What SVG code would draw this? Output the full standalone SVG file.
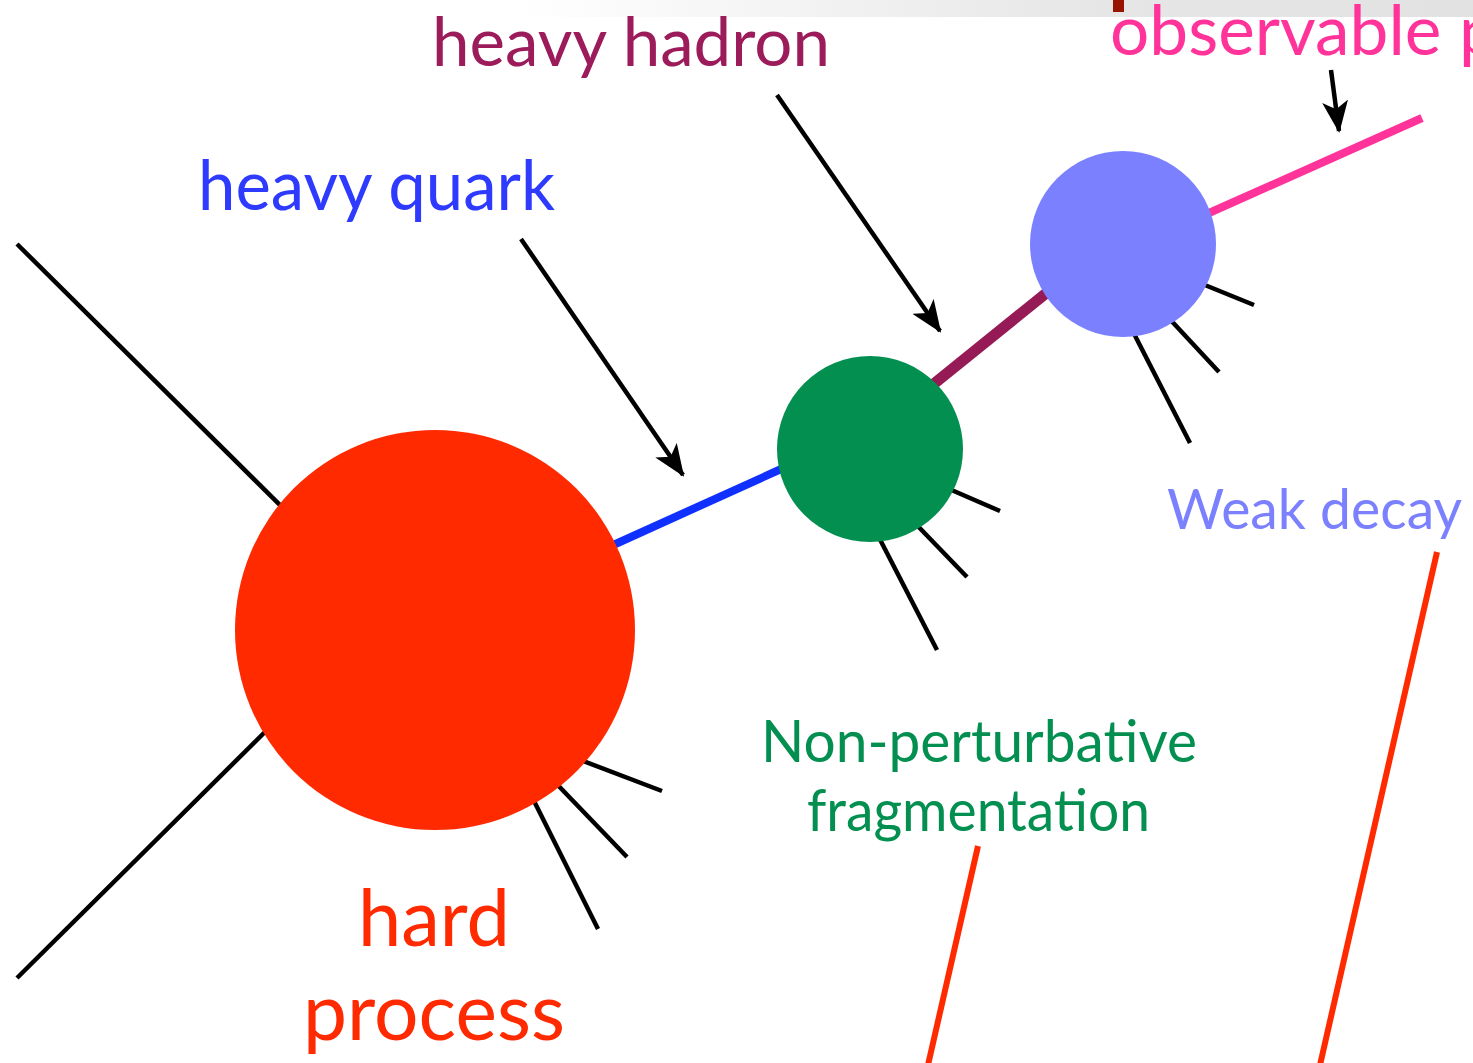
<svg xmlns="http://www.w3.org/2000/svg" width="1473" height="1063" viewBox="0 0 1473 1063">
<defs>
<linearGradient id="bar" x1="0" y1="0" x2="1473" y2="0" gradientUnits="userSpaceOnUse">
<stop offset="0.35" stop-color="#ffffff"/>
<stop offset="0.75" stop-color="#e6e6e6"/>
<stop offset="1" stop-color="#e2e2e2"/>
</linearGradient>
<marker id="ah" viewBox="0 0 32 26" markerWidth="32" markerHeight="26" refX="30" refY="13" orient="auto" markerUnits="userSpaceOnUse">
<path d="M0,0 L32,13 L0,26 L8,13 z" fill="#000"/>
</marker>
<style>
.lbl{font-family:Lato,"Open Sans","Liberation Sans",sans-serif;}
.leg{stroke:#000;stroke-width:4.5;fill:none;}
.arr{stroke:#000;stroke-width:4.5;fill:none;marker-end:url(#ah);}
.ptr{stroke:#ff2a00;stroke-width:6;fill:none;}
</style>
</defs>
<rect width="1473" height="1063" fill="#fff"/>
<rect x="0" y="0" width="1473" height="17" fill="url(#bar)"/>
<rect x="1113" y="0" width="11" height="12" fill="#991400"/>

<g id="connectors">
<line class="leg" x1="17" y1="244" x2="290" y2="515"/>
<line class="leg" x1="17" y1="978" x2="275" y2="722"/>
<line class="leg" x1="570" y1="756" x2="662" y2="791"/>
<line class="leg" x1="550" y1="777" x2="627" y2="857"/>
<line class="leg" x1="530" y1="793" x2="598" y2="929"/>
<line class="leg" x1="940" y1="485" x2="1000" y2="511"/>
<line class="leg" x1="910" y1="518" x2="967" y2="577"/>
<line class="leg" x1="872" y1="524" x2="937" y2="650"/>
<line class="leg" x1="1195" y1="281" x2="1254" y2="305"/>
<line class="leg" x1="1165" y1="314" x2="1219" y2="372"/>
<line class="leg" x1="1128" y1="322" x2="1190" y2="443"/>
<line x1="600" y1="551" x2="790" y2="465" stroke="#1030ff" stroke-width="8"/>
<line x1="925" y1="391" x2="1060" y2="282" stroke="#961a55" stroke-width="11"/>
<line x1="1200" y1="217" x2="1422" y2="118" stroke="#ff3399" stroke-width="8"/>
<line class="arr" x1="521" y1="239" x2="683" y2="475"/>
<line class="arr" x1="777" y1="95" x2="940" y2="331"/>
<line class="arr" x1="1331" y1="70" x2="1339" y2="131"/>
<line class="ptr" x1="978" y1="846" x2="928" y2="1065"/>
<line class="ptr" x1="1437" y1="552" x2="1320" y2="1065"/>
</g>

<g id="hard-process">
<circle cx="435" cy="630" r="200" fill="#ff2a00"/>
<text class="lbl" x="358" y="946" font-size="80" fill="#ff2a00" textLength="152" lengthAdjust="spacingAndGlyphs">hard</text>
<text class="lbl" x="303" y="1040" font-size="80" fill="#ff2a00" textLength="262" lengthAdjust="spacingAndGlyphs">process</text>
</g>

<g id="fragmentation">
<circle cx="870" cy="449" r="93" fill="#038f50"/>
<text class="lbl" x="761" y="762" font-size="58" fill="#038f50" textLength="436" lengthAdjust="spacingAndGlyphs">Non-perturbative</text>
<text class="lbl" x="807" y="831" font-size="58" fill="#038f50" textLength="343" lengthAdjust="spacingAndGlyphs">fragmentation</text>
</g>

<g id="weak-decay">
<circle cx="1123" cy="244" r="93" fill="#7b80ff"/>
<text class="lbl" x="1167" y="529" font-size="56" fill="#7b80ff" textLength="295" lengthAdjust="spacingAndGlyphs">Weak decay</text>
</g>

<g id="heavy-quark">
<text class="lbl" x="198" y="210" font-size="70" fill="#2f3aff" textLength="357" lengthAdjust="spacingAndGlyphs">heavy quark</text>
</g>

<g id="heavy-hadron">
<text class="lbl" x="432" y="66" font-size="67" fill="#9c1b5a" textLength="398" lengthAdjust="spacingAndGlyphs">heavy hadron</text>
</g>

<g id="observable">
<text class="lbl" x="1110" y="55" font-size="69" fill="#ff3399" textLength="388" lengthAdjust="spacingAndGlyphs">observable p</text>
</g>
</svg>
